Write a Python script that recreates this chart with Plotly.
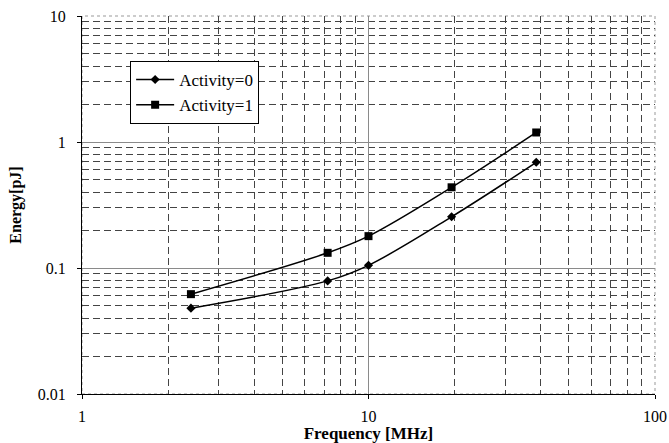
import plotly.graph_objects as go

freq = [2.4, 7.2, 10, 19.5, 38.5]
act0 = [0.048, 0.079, 0.105, 0.255, 0.69]
act1 = [0.062, 0.132, 0.179, 0.437, 1.19]
names = ["Activity=0", "Activity=1"]

x_major = [1, 10, 100]
x_major_text = ["1", "10", "100"]
y_major = [0.01, 0.1, 1, 10]
y_major_text = ["0.01", "0.1", "1", "10"]
x_minor = [2, 3, 4, 5, 6, 7, 8, 9, 20, 30, 40, 50, 60, 70, 80, 90]
y_minor = [0.02, 0.03, 0.04, 0.05, 0.06, 0.07, 0.08, 0.09,
           0.2, 0.3, 0.4, 0.5, 0.6, 0.7, 0.8, 0.9,
           2, 3, 4, 5, 6, 7, 8, 9]

font = "Liberation Serif, Times New Roman, serif"

fig = go.Figure()
fig.add_trace(go.Scatter(x=freq, y=act0, name=names[0], mode="lines+markers",
                         legendgroup="a0",
                         line=dict(color="black", width=1.5, shape="spline"),
                         marker=dict(symbol="diamond", size=7, color="black")))
fig.add_trace(go.Scatter(x=freq, y=act1, name=names[1], mode="lines+markers",
                         legendgroup="a1",
                         line=dict(color="black", width=1.5, shape="spline"),
                         marker=dict(symbol="square", size=8, color="black")))

fig.update_layout(
    width=669, height=443,
    margin=dict(l=82, r=14, t=16, b=49, autoexpand=False),
    paper_bgcolor="white", plot_bgcolor="white",
    font=dict(family=font, size=16, color="black"),
    showlegend=True,
    legend=dict(x=0.084, y=0.881, xanchor="left", yanchor="top",
                bgcolor="white", bordercolor="black", borderwidth=1,
                font=dict(family=font, size=17, color="black"),
                traceorder="grouped", tracegroupgap=0, itemwidth=38),
    xaxis=dict(type="log", range=[0, 2], tickvals=x_major, ticktext=x_major_text,
               showline=True, linecolor="black", linewidth=1,
               ticks="outside", ticklen=4, tickcolor="black",
               ticklabelstandoff=4, automargin=False,
               showgrid=True, gridcolor="#8a8a8a", gridwidth=1,
               zeroline=False,
               minor=dict(tickvals=x_minor, showgrid=True, gridcolor="#444444",
                          griddash="7px,4px", gridwidth=1, ticks=""),
               title=dict(text="<b>Frequency [MHz]</b>", standoff=0,
                          font=dict(family=font, size=17))),
    yaxis=dict(type="log", range=[-2, 1], tickvals=y_major, ticktext=y_major_text,
               showline=True, linecolor="black", linewidth=1,
               ticks="outside", ticklen=4, tickcolor="black",
               ticklabelstandoff=8, automargin=False,
               showgrid=True, gridcolor="#8a8a8a", gridwidth=1,
               zeroline=False,
               minor=dict(tickvals=y_minor, showgrid=True, gridcolor="#444444",
                          griddash="7px,4px", gridwidth=1, ticks=""),
               title=dict(text="<b>Energy[pJ]</b>", standoff=12,
                          font=dict(family=font, size=16))),
)
fig.add_shape(type="rect", xref="paper", yref="paper", x0=0, x1=1, y0=0, y1=1,
              line=dict(color="#999999", width=1, dash="dot"), layer="below")

fig.write_html("out.html", config={"displayModeBar": False},
               post_script="document.body.style.margin='0';document.body.style.overflow='hidden';")
